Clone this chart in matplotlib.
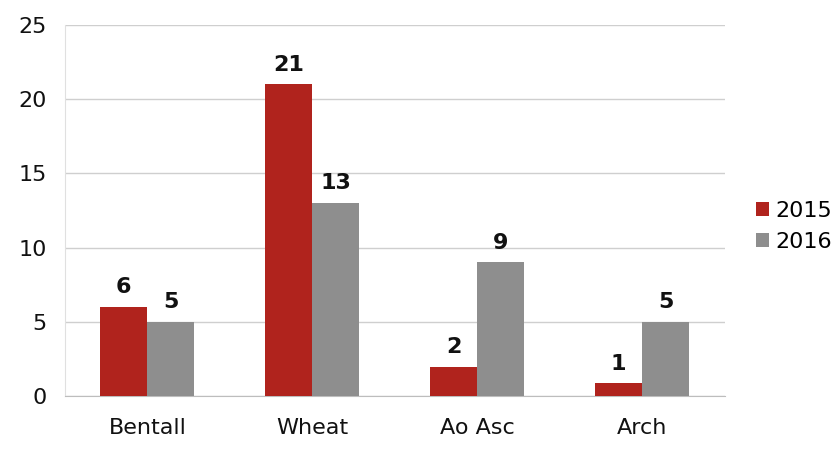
import matplotlib
matplotlib.use("Agg")
import matplotlib.pyplot as plt
import numpy as np

categories = ["Bentall", "Wheat", "Ao Asc", "Arch"]
series_names = ["2015", "2016"]
values_2015 = [6, 21, 1.95, 0.85]
values_2016 = [5, 13, 9, 5]
labels_2015 = ["6", "21", "2", "1"]
labels_2016 = ["5", "13", "9", "5"]
yticks = [0, 5, 10, 15, 20, 25]

colors = ["#B0231D", "#8E8E8E"]

fig = plt.figure(figsize=(8.32, 4.57), dpi=100)
ax = fig.add_axes([0.078, 0.1335, 0.793, 0.8115])

x = np.arange(len(categories))
w = 0.285
b1 = ax.bar(x - w / 2, values_2015, w, color=colors[0], label=series_names[0], zorder=3)
b2 = ax.bar(x + w / 2, values_2016, w, color=colors[1], label=series_names[1], zorder=3)

for bars, labs in ((b1, labels_2015), (b2, labels_2016)):
    for rect, lab in zip(bars, labs):
        ax.annotate(lab, (rect.get_x() + rect.get_width() / 2, rect.get_height()),
                    xytext=(0, 7), textcoords="offset points", ha="center", va="bottom",
                    fontsize=16, fontweight="bold", color="#111111")

ax.set_xlim(-0.5, len(categories) - 0.5)
ax.set_ylim(0, 25)
ax.set_yticks(yticks)
ax.set_xticks(x)
ax.set_xticklabels(categories)
ax.tick_params(axis="y", length=0, pad=13, labelsize=16, labelcolor="#111111")
ax.tick_params(axis="x", length=0, pad=16, labelsize=16, labelcolor="#111111")
ax.grid(axis="y", color="#CFCFCF", linewidth=1.0, zorder=0)
for s in ["top", "right"]:
    ax.spines[s].set_visible(False)
ax.spines["left"].set_color("#E0E0E0")
ax.spines["bottom"].set_color("#BDBDBD")

ax.legend(loc="center left", bbox_to_anchor=(1.0, 0.457), frameon=False, fontsize=16,
          handlelength=0.6, handleheight=0.6, handletextpad=0.3, labelspacing=0.5,
          borderaxespad=1.0)

fig.savefig("out.png", dpi=100)
